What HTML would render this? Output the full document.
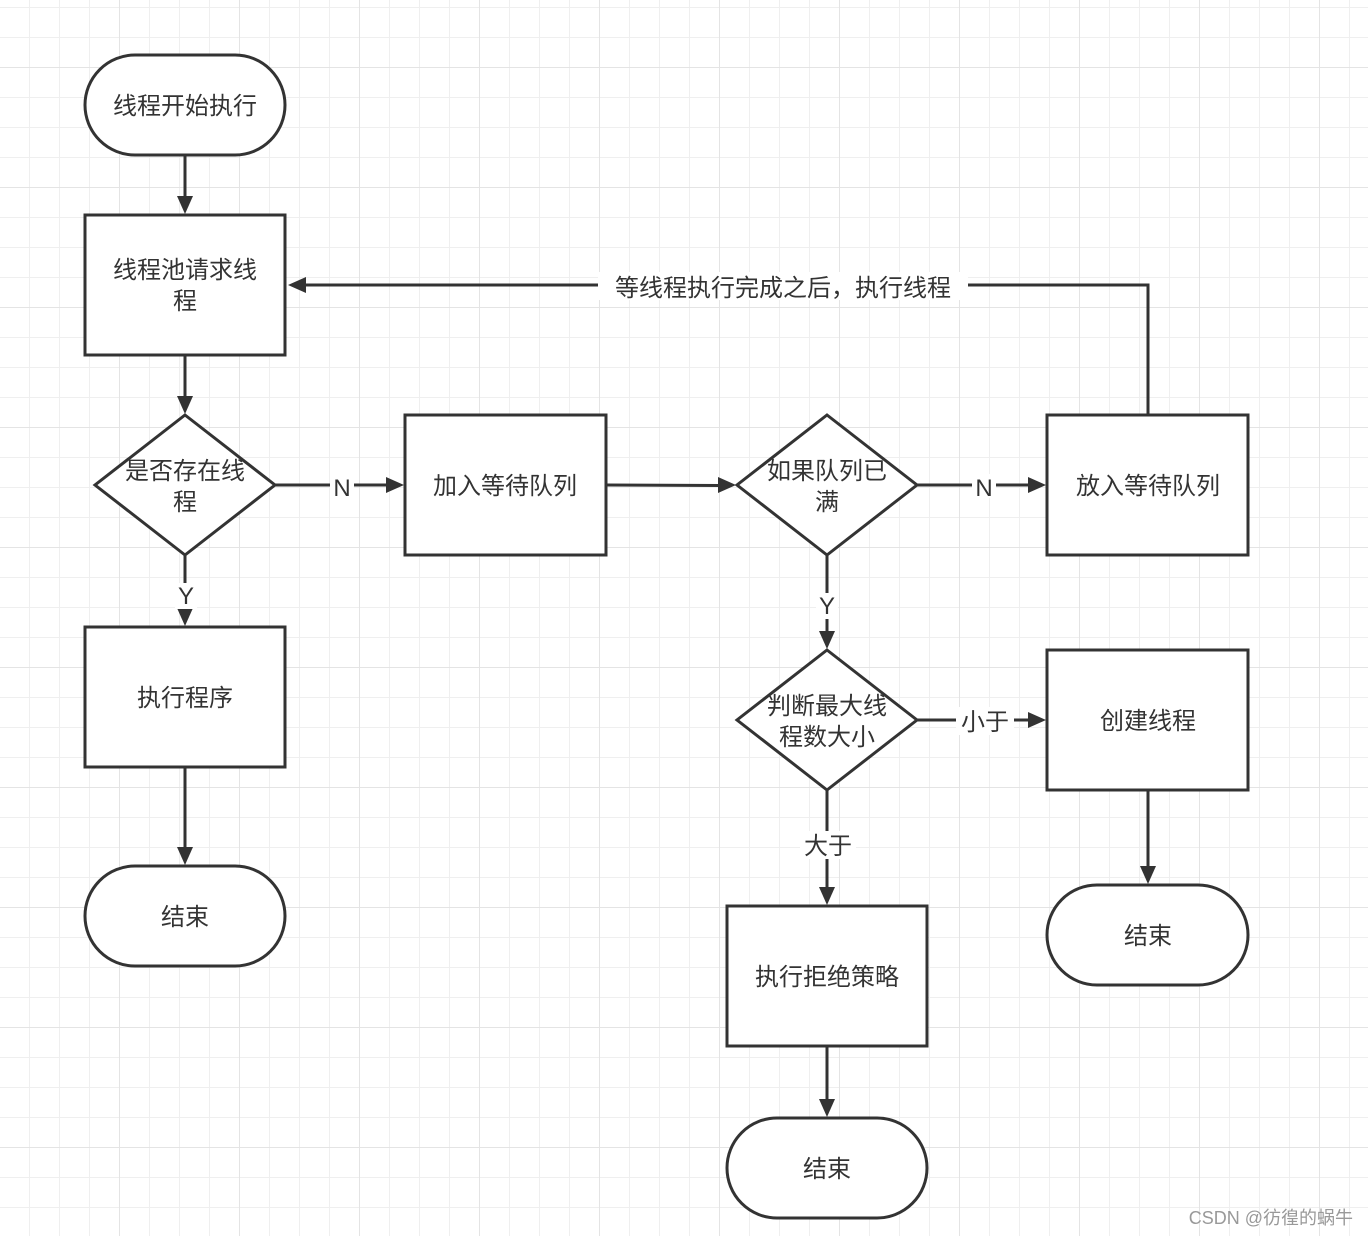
<!DOCTYPE html>
<html><head><meta charset="utf-8"><style>
html,body{margin:0;padding:0;background:#fff;}
svg{display:block;}
text{font-family:"Liberation Sans","Noto Sans CJK SC",sans-serif;fill:#333;}
</style></head><body>
<svg width="1368" height="1236" viewBox="0 0 1368 1236" xmlns="http://www.w3.org/2000/svg">
<defs>
<pattern id="g1" x="29" y="7" width="30" height="30" patternUnits="userSpaceOnUse">
<path d="M0 0V30M0 0H30" stroke="#efefef" stroke-width="2" fill="none"/></pattern>
<pattern id="g2" x="119" y="67" width="120" height="120" patternUnits="userSpaceOnUse">
<path d="M0 0V120M0 0H120" stroke="#e4e4e4" stroke-width="2" fill="none"/></pattern>
</defs>
<rect width="1368" height="1236" fill="url(#g1)"/>
<rect width="1368" height="1236" fill="url(#g2)"/>

<g stroke="#333" stroke-width="3" fill="none">
<!-- connectors -->
<path d="M185 155V198"/>
<path d="M185 355V398"/>
<path d="M185 555V610"/>
<path d="M185 767V849"/>
<path d="M275 485H388"/>
<path d="M606 485L720 485.5"/>
<path d="M917 485H1030"/>
<path d="M827 555V633"/>
<path d="M917 720H1030"/>
<path d="M827 790V889"/>
<path d="M1148 790V868"/>
<path d="M827 1046V1101"/>
<path d="M1148 415V285H304"/>
</g>
<g fill="#333">
<polygon points="185,214 177,196 193,196"/>
<polygon points="185,414 177,396 193,396"/>
<polygon points="185,626 177,608 193,608"/>
<polygon points="185,865 177,847 193,847"/>
<polygon points="404,485 386,477 386,493"/>
<polygon points="736,485 718,477 718,493"/>
<polygon points="1046,485 1028,477 1028,493"/>
<polygon points="827,649 819,631 835,631"/>
<polygon points="1046,720 1028,712 1028,728"/>
<polygon points="827,905 819,887 835,887"/>
<polygon points="1148,884 1140,866 1156,866"/>
<polygon points="827,1117 819,1099 835,1099"/>
<polygon points="288,285 306,277 306,293"/>
</g>

<g stroke="#333" stroke-width="3" fill="#fff">
<rect x="85" y="55" width="200" height="100" rx="50"/>
<rect x="85" y="215" width="200" height="140"/>
<polygon points="185,415 275,485 185,555 95,485"/>
<rect x="85" y="627" width="200" height="140"/>
<rect x="85" y="866" width="200" height="100" rx="50"/>
<rect x="405" y="415" width="201" height="140"/>
<polygon points="827,415 917,485 827,555 737,485"/>
<rect x="1047" y="415" width="201" height="140"/>
<polygon points="827,650 917,720 827,790 737,720"/>
<rect x="1047" y="650" width="201" height="140"/>
<rect x="1047" y="885" width="201" height="100" rx="50"/>
<rect x="727" y="906" width="200" height="140"/>
<rect x="727" y="1118" width="200" height="100" rx="50"/>
</g>

<!-- edge labels -->
<g fill="#fff">
<rect x="598" y="272" width="370" height="28"/>
<rect x="330" y="474" width="24" height="24"/>
<rect x="972" y="474" width="24" height="24"/>
<rect x="175" y="583" width="22" height="26"/>
<rect x="816" y="593" width="22" height="26"/>
<rect x="956" y="707" width="58" height="28"/>
<rect x="800" y="831" width="56" height="28"/>
</g>
<g font-size="24" text-anchor="middle">
<text x="783" y="296">等线程执行完成之后，执行线程</text>
<text x="342" y="496">N</text>
<text x="984" y="496">N</text>
<text x="186" y="604">Y</text>
<text x="827" y="614">Y</text>
<text x="985" y="730">小于</text>
<text x="828" y="854">大于</text>

<text x="185" y="114">线程开始执行</text>
<text x="185" y="278">线程池请求线</text>
<text x="185" y="309">程</text>
<text x="185" y="479">是否存在线</text>
<text x="185" y="510">程</text>
<text x="185" y="706">执行程序</text>
<text x="185" y="925">结束</text>
<text x="505" y="494">加入等待队列</text>
<text x="827" y="479">如果队列已</text>
<text x="827" y="510">满</text>
<text x="1148" y="494">放入等待队列</text>
<text x="827" y="714">判断最大线</text>
<text x="827" y="745">程数大小</text>
<text x="1148" y="729">创建线程</text>
<text x="1148" y="944">结束</text>
<text x="827" y="985">执行拒绝策略</text>
<text x="827" y="1177">结束</text>
</g>
<text x="1353" y="1224" font-size="18" text-anchor="end" style="fill:#999">CSDN @彷徨的蜗牛</text>
</svg>
</body></html>
